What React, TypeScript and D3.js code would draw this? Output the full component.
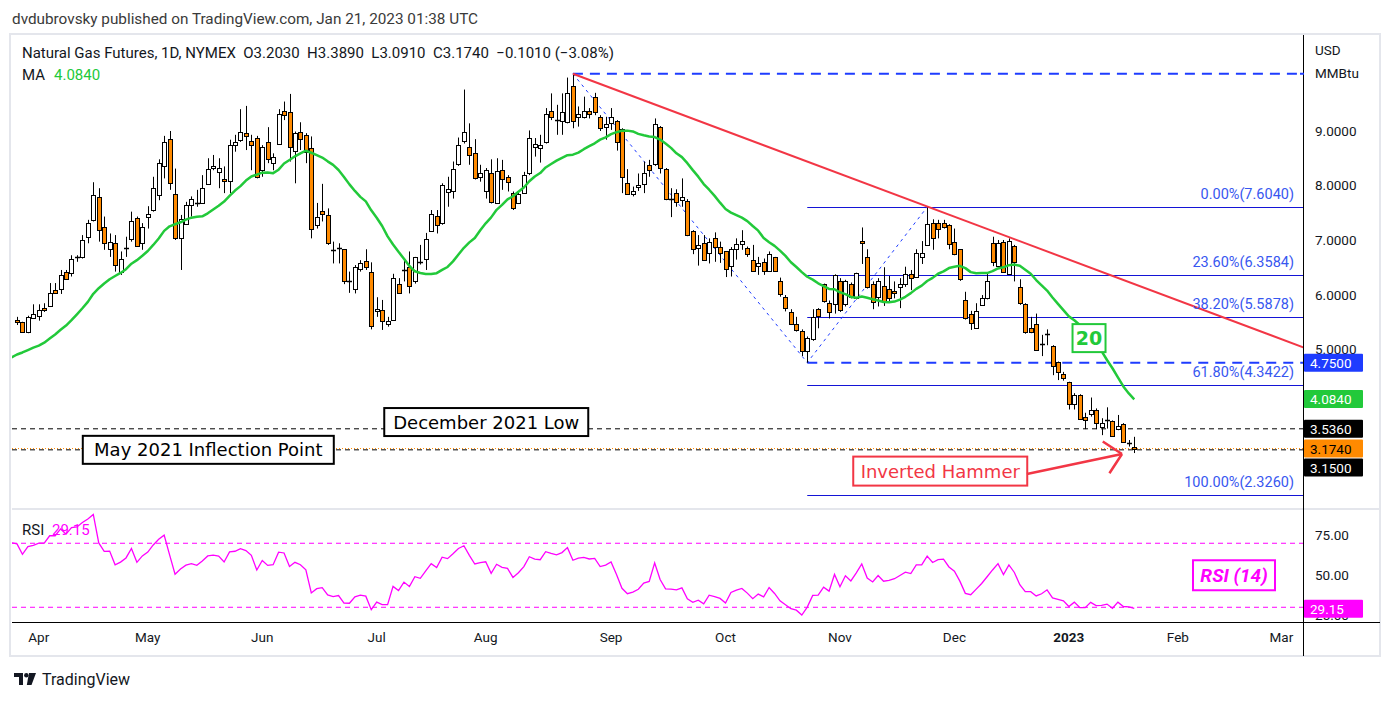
import React from 'react';
import * as d3 from 'd3';

const W = 1391;
const H = 701;

// ---- calendar ----
const firstBarDate = '2022-03-28';
const holidays = [
  '2022-04-15', '2022-05-30', '2022-06-20', '2022-07-04', '2022-09-05',
  '2022-11-24', '2022-12-26', '2023-01-02', '2023-01-16', '2023-02-20',
];
const monthNames = ['Jan', 'Feb', 'Mar', 'Apr', 'May', 'Jun', 'Jul', 'Aug', 'Sep', 'Oct', 'Nov', 'Dec'];

// closes before the first drawn bar (late Feb - Mar 25 2022), only used to warm up MA / RSI
const warmupCloses = [
  4.44, 4.40, 4.57, 4.72, 4.72, 5.01, 4.62, 4.53, 4.51, 4.64, 4.73,
  4.67, 4.55, 4.77, 4.96, 4.86, 5.12, 5.23, 5.41, 5.34, 5.52,
];

// daily bars Mar 28 2022 .. Jan 20 2023 : [open, high, low, close]
const ohlc: [number, number, number, number][] = [
  [5.54, 5.59, 5.44, 5.50], [5.49, 5.50, 5.30, 5.32], [5.32, 5.61, 5.29, 5.59], [5.56, 5.82, 5.55, 5.64],
  [5.61, 5.82, 5.52, 5.72], [5.75, 5.84, 5.68, 5.72], [5.78, 6.21, 5.77, 6.02], [6.08, 6.21, 6.01, 6.02],
  [6.11, 6.45, 6.01, 6.36], [6.41, 6.45, 6.27, 6.28], [6.39, 6.72, 6.33, 6.65], [6.68, 6.72, 6.60, 6.69],
  [6.69, 7.09, 6.66, 7.00], [7.05, 7.37, 6.94, 7.31], [7.37, 8.06, 7.34, 7.82], [7.78, 7.95, 6.97, 7.18],
  [7.24, 7.43, 6.82, 6.94], [6.83, 7.12, 6.69, 6.96], [6.94, 7.09, 6.42, 6.54], [6.41, 6.79, 6.36, 6.66],
  [6.84, 7.06, 6.69, 6.85], [7.01, 7.52, 6.97, 7.35], [7.40, 7.43, 6.88, 6.89], [6.94, 7.31, 6.82, 7.24],
  [7.42, 7.62, 7.21, 7.47], [7.55, 8.16, 7.52, 7.95], [7.83, 8.48, 7.73, 8.41], [8.35, 8.91, 8.13, 8.79],
  [8.85, 9.00, 7.92, 8.04], [7.84, 8.31, 7.00, 7.03], [7.03, 7.46, 6.45, 7.38], [7.30, 7.70, 7.28, 7.64],
  [7.64, 7.80, 7.43, 7.75], [7.67, 7.92, 7.61, 7.66], [7.68, 8.19, 7.67, 7.95], [8.03, 8.50, 8.01, 8.30],
  [8.32, 8.56, 8.28, 8.36], [8.24, 8.50, 7.95, 8.32], [8.12, 8.35, 7.86, 8.08], [8.08, 8.84, 7.86, 8.74],
  [8.74, 8.93, 8.62, 8.79], [8.83, 9.40, 8.80, 8.98], [8.97, 9.46, 8.65, 8.91], [8.82, 8.93, 8.28, 8.74],
  [8.88, 8.91, 8.13, 8.15], [8.28, 8.74, 8.16, 8.70], [8.79, 9.07, 8.41, 8.48], [8.41, 8.59, 8.28, 8.52],
  [8.76, 9.40, 8.76, 9.32], [9.36, 9.54, 9.20, 9.29], [9.34, 9.68, 8.44, 8.70], [8.63, 8.99, 8.04, 8.96],
  [8.99, 9.16, 8.65, 8.85], [8.92, 8.96, 8.41, 8.62], [8.68, 8.90, 7.03, 7.20], [7.27, 7.68, 7.21, 7.42],
  [7.54, 8.03, 7.34, 7.47], [7.45, 7.58, 6.91, 6.94], [6.81, 6.97, 6.57, 6.80], [6.84, 6.94, 6.57, 6.85],
  [6.83, 6.83, 6.19, 6.25], [6.25, 6.42, 6.03, 6.24], [6.11, 6.54, 6.02, 6.50], [6.46, 6.63, 6.42, 6.57],
  [6.62, 6.83, 6.45, 6.50], [6.42, 6.59, 5.36, 5.42], [5.70, 5.95, 5.59, 5.73], [5.71, 5.90, 5.35, 5.51],
  [5.45, 5.59, 5.41, 5.51], [5.53, 6.38, 5.52, 6.30], [6.19, 6.30, 6.02, 6.02], [6.45, 6.66, 6.24, 6.44],
  [6.51, 6.79, 6.02, 6.16], [6.25, 6.69, 6.20, 6.68], [6.58, 6.91, 6.55, 6.59], [6.66, 7.13, 6.45, 7.01],
  [7.16, 7.55, 7.15, 7.47], [7.44, 7.55, 7.12, 7.27], [7.31, 8.04, 7.28, 8.00], [7.88, 8.16, 7.61, 7.93],
  [7.90, 8.44, 7.76, 8.30], [8.39, 8.88, 8.36, 8.74], [8.82, 9.76, 8.77, 8.99], [8.70, 9.14, 8.38, 8.56],
  [8.59, 8.85, 8.11, 8.13], [8.15, 8.38, 8.07, 8.22], [7.90, 8.32, 7.76, 8.28], [8.22, 8.48, 7.67, 7.70],
  [7.67, 8.50, 7.66, 8.27], [8.29, 8.47, 7.92, 8.11], [8.15, 8.19, 7.89, 8.06], [7.87, 7.89, 7.55, 7.58],
  [7.67, 7.87, 7.66, 7.84], [7.86, 8.25, 7.85, 8.20], [8.22, 9.01, 8.19, 8.88], [8.71, 8.87, 8.53, 8.77],
  [8.68, 8.93, 8.42, 8.74], [8.80, 9.42, 8.77, 9.32], [9.36, 9.69, 9.20, 9.25], [9.20, 9.48, 8.93, 9.19],
  [9.18, 9.69, 8.93, 9.34], [9.17, 9.98, 9.14, 9.69], [9.83, 10.05, 9.05, 9.19], [9.25, 9.45, 9.08, 9.32],
  [9.25, 9.63, 9.23, 9.37], [9.37, 9.42, 9.23, 9.31], [9.62, 9.70, 9.29, 9.34], [9.26, 9.29, 9.00, 9.05],
  [9.08, 9.26, 8.84, 9.12], [9.14, 9.42, 9.02, 9.26], [9.19, 9.20, 8.64, 8.80], [9.03, 9.05, 7.86, 8.15],
  [8.04, 8.30, 7.83, 7.84], [7.84, 7.98, 7.80, 7.90], [7.97, 8.22, 7.90, 8.00], [8.03, 8.44, 7.86, 8.23],
  [8.38, 8.47, 8.16, 8.29], [8.39, 9.23, 8.36, 9.12], [9.07, 9.09, 8.22, 8.33], [8.30, 8.32, 7.73, 7.76],
  [7.75, 7.95, 7.42, 7.74], [7.86, 7.93, 7.61, 7.70], [7.73, 8.13, 7.61, 7.78], [7.72, 7.75, 7.07, 7.09],
  [7.17, 7.18, 6.74, 6.83], [6.86, 7.09, 6.53, 6.91], [6.94, 7.09, 6.62, 6.64], [6.77, 7.03, 6.57, 6.96],
  [7.03, 7.14, 6.60, 6.87], [6.88, 6.97, 6.58, 6.76], [6.79, 6.79, 6.32, 6.46], [6.52, 6.87, 6.33, 6.83],
  [6.83, 7.03, 6.64, 6.92], [6.93, 7.18, 6.82, 6.98], [6.85, 6.88, 6.69, 6.74], [6.64, 6.91, 6.42, 6.43],
  [6.52, 6.69, 6.36, 6.58], [6.59, 6.66, 6.36, 6.43], [6.44, 6.79, 6.42, 6.74], [6.68, 6.69, 6.42, 6.44],
  [6.25, 6.31, 5.96, 6.01], [5.96, 5.99, 5.69, 5.75], [5.67, 5.73, 5.44, 5.46], [5.45, 5.59, 5.32, 5.35],
  [5.33, 5.36, 4.87, 4.96], [4.96, 5.23, 4.75, 5.20], [5.18, 5.73, 5.15, 5.59], [5.73, 5.75, 5.38, 5.60],
  [6.19, 6.20, 5.85, 5.88], [5.84, 5.89, 5.56, 5.68], [5.83, 6.37, 5.65, 6.36], [6.25, 6.30, 5.68, 5.71],
  [5.83, 6.27, 5.78, 6.25], [6.20, 6.22, 5.93, 5.96], [5.93, 6.40, 5.91, 6.39], [6.98, 7.23, 6.56, 6.94],
  [6.68, 6.83, 6.11, 6.13], [6.19, 6.24, 5.73, 5.87], [5.95, 6.30, 5.78, 6.25], [6.16, 6.50, 5.79, 5.88],
  [6.11, 6.34, 5.87, 5.93], [6.06, 6.24, 5.93, 6.02], [6.13, 6.30, 5.75, 6.19], [6.19, 6.51, 6.14, 6.37],
  [6.37, 6.45, 6.08, 6.30], [6.33, 6.83, 6.31, 6.77], [6.69, 6.98, 6.56, 6.77], [6.90, 7.604, 6.89, 7.30],
  [7.32, 7.38, 6.82, 7.03], [7.31, 7.37, 7.03, 7.20], [7.32, 7.37, 7.21, 7.23], [7.27, 7.29, 6.83, 6.92],
  [6.96, 7.21, 6.72, 6.74], [6.83, 6.83, 6.25, 6.28], [5.89, 6.05, 5.54, 5.56], [5.64, 5.70, 5.35, 5.47],
  [5.38, 5.84, 5.37, 5.70], [5.80, 5.99, 5.79, 5.94], [5.93, 6.39, 5.91, 6.25], [6.94, 7.06, 6.52, 6.59],
  [6.53, 7.00, 6.51, 6.94], [6.96, 7.00, 6.40, 6.42], [6.37, 7.03, 6.36, 6.98], [6.89, 6.91, 6.24, 6.59],
  [6.14, 6.28, 5.81, 5.84], [5.82, 5.84, 5.28, 5.32], [5.38, 5.59, 5.29, 5.32], [5.45, 5.65, 4.98, 4.99],
  [5.09, 5.26, 4.87, 5.09], [5.26, 5.36, 5.07, 5.27], [5.06, 5.07, 4.52, 4.68], [4.77, 4.77, 4.43, 4.57],
  [4.55, 4.58, 4.42, 4.46], [4.39, 4.40, 3.89, 3.99], [4.00, 4.19, 3.89, 4.16], [4.16, 4.17, 3.70, 3.71],
  [3.76, 3.83, 3.53, 3.70], [3.81, 4.11, 3.76, 3.89], [3.89, 3.91, 3.53, 3.64], [3.56, 3.73, 3.42, 3.65],
  [3.68, 3.93, 3.54, 3.69], [3.67, 3.69, 3.39, 3.40], [3.53, 3.79, 3.51, 3.59], [3.62, 3.64, 3.28, 3.30],
  [3.28, 3.33, 3.21, 3.27], [3.203, 3.389, 3.091, 3.174],
];

const maPeriod = 20;
const rsiPeriod = 14;

// drawings
const swingHigh = { bar: 102, price: 10.05 };
const swingLow = { bar: 145, price: 4.75 };
const fibAnchor = { bar: 167, price: 7.604 };
const fibBottom = 2.326;
const fibRatios = [0, 0.236, 0.382, 0.618, 1];
const trendEnd = { bar: 236, price: 5.03 };
const decemberLow = 3.536;
const mayInflection = 3.15;
const lastPrice = 3.174;
const maLast = 4.084;
const rsiLast = 29.15;

const priceTicks = [5, 6, 7, 8, 9];
const rsiTicks = [75, 50, 25];
const rsiBands = [70, 30];

const publishedLine = 'dvdubrovsky published on TradingView.com, Jan 21, 2023 01:38 UTC';
const legendLine = 'Natural Gas Futures, 1D, NYMEX  O3.2030  H3.3890  L3.0910  C3.1740  \u22120.1010 (\u22123.08%)';

// ---- colors / fonts ----
const UP = '#ffffff';
const DOWN = '#ff8a00';
const MA_COLOR = '#22c93a';
const BLUE = '#1e3cff';
const FIB_LINE = '#1414d6';
const FIB_TEXT = '#3857f0';
const RED = '#f23645';
const MAGENTA = '#ff00ff';
const TXT = '#131722';
const UI = "Roboto, 'Liberation Sans', sans-serif";
const NOTE = "'DejaVu Sans', Verdana, sans-serif";

// pane geometry
const PL = 12;
const PR = 1303;
const PRICE_TOP = 35;
const PRICE_BOTTOM = 508;
const RSI_TOP = 509;
const RSI_BOTTOM = 622;
const FRAME_R = 1380;
const FRAME_B = 656;

function tradingDays(start: string, count: number): Date[] {
  const out: Date[] = [];
  const d = new Date(start + 'T00:00:00Z');
  while (out.length < count) {
    const dow = d.getUTCDay();
    const iso = d.toISOString().slice(0, 10);
    if (dow !== 0 && dow !== 6 && !holidays.includes(iso)) out.push(new Date(d));
    d.setUTCDate(d.getUTCDate() + 1);
  }
  return out;
}

function Badge({ y, bg, fg, text }: { y: number; bg: string; fg: string; text: string }) {
  return (
    <g>
      <rect x={PR + 1} y={y - 9} width={59} height={18} rx={1} fill={bg} />
      <text x={PR + 7} y={y + 5} fontSize={13.5} fill={fg} fontFamily={UI}>{text}</text>
    </g>
  );
}

export default function App() {
  const dates = tradingDays(firstBarDate, 245);
  const x = d3.scaleLinear().domain([-0.917, 235.96]).range([PL, PR]);
  const y = d3.scaleLinear().domain([2.083, 10.761]).range([PRICE_BOTTOM, PRICE_TOP]);
  const yR = d3.scaleLinear().domain([20.8, 91.4]).range([RSI_BOTTOM, RSI_TOP]);

  const allCloses = warmupCloses.concat(ohlc.map((b) => b[3]));
  const off = warmupCloses.length;

  // 20-period SMA
  const maPts: [number, number][] = [];
  for (let i = -1; i < ohlc.length; i++) {
    const k = i + off;
    const win = allCloses.slice(k - maPeriod + 1, k + 1);
    maPts.push([i, d3.mean(win) as number]);
  }

  // Wilder RSI
  const rsiAll: (number | null)[] = allCloses.map(() => null);
  let ag = 0;
  let al = 0;
  for (let k = 1; k < allCloses.length; k++) {
    const ch = allCloses[k] - allCloses[k - 1];
    const g = Math.max(ch, 0);
    const l = Math.max(-ch, 0);
    if (k <= rsiPeriod) {
      ag += g / rsiPeriod;
      al += l / rsiPeriod;
    } else {
      ag = (ag * (rsiPeriod - 1) + g) / rsiPeriod;
      al = (al * (rsiPeriod - 1) + l) / rsiPeriod;
    }
    if (k >= rsiPeriod) rsiAll[k] = al === 0 ? 100 : 100 - 100 / (1 + ag / al);
  }
  const rsiPts: [number, number][] = [];
  for (let i = -1; i < ohlc.length; i++) rsiPts.push([i, rsiAll[i + off] as number]);

  const priceLine = d3.line<[number, number]>().x((d) => x(d[0])).y((d) => y(d[1]));
  const rsiLine = d3.line<[number, number]>().x((d) => x(d[0])).y((d) => yR(d[1]));

  // month ticks
  const monthTicks: { i: number; label: string; bold: boolean }[] = [];
  for (let i = 1; i < dates.length; i++) {
    if (dates[i].getUTCMonth() !== dates[i - 1].getUTCMonth()) {
      const m = dates[i].getUTCMonth();
      const px = x(i);
      if (px > PL + 10 && px < PR - 10) {
        monthTicks.push({ i, label: m === 0 ? String(dates[i].getUTCFullYear()) : monthNames[m], bold: m === 0 });
      }
    }
  }

  // fib levels
  const fibRange = fibAnchor.price - fibBottom;
  const fibLevels = fibRatios.map((r) => ({ r, p: fibAnchor.price - r * fibRange }));

  // price badges, pushed apart when overlapping
  const badges = [
    { p: swingLow.price, bg: BLUE, fg: '#fff' },
    { p: maLast, bg: MA_COLOR, fg: '#fff' },
    { p: decemberLow, bg: '#000', fg: '#fff' },
    { p: lastPrice, bg: DOWN, fg: '#000' },
    { p: mayInflection, bg: '#000', fg: '#fff' },
  ]
    .map((b) => ({ ...b, text: b.p.toFixed(4), y: y(b.p) }))
    .sort((a, b) => a.y - b.y);
  for (let k = 1; k < badges.length; k++) {
    if (badges[k].y < badges[k - 1].y + 19) badges[k].y = badges[k - 1].y + 19;
  }

  const arrowFrom = { bar: 185.3, price: 2.706 };
  const arrowTo = { bar: 202.75, price: 3.073 };
  const ax1 = x(arrowFrom.bar);
  const ay1 = y(arrowFrom.price);
  const ax2 = x(arrowTo.bar);
  const ay2 = y(arrowTo.price);
  const ang = Math.atan2(ay1 - ay2, ax1 - ax2);
  const head = (s: number) => `M${ax2 + 23 * Math.cos(ang + s)},${ay2 + 23 * Math.sin(ang + s)}L${ax2},${ay2}`;

  const noteBox = (cx: number, cy: number, w: number, h: number, text: string, color: string, sw: number) => (
    <g>
      <rect x={cx - w / 2} y={cy - h / 2} width={w} height={h} fill="#fff" stroke={color} strokeWidth={sw} />
      <text x={cx} y={cy + 6.5} textAnchor="middle" fontFamily={NOTE} fontSize={18} fill={color}>{text}</text>
    </g>
  );

  return (
    <svg width={W} height={H} style={{ position: 'absolute', left: 0, top: 0, background: '#fff' }} fontFamily={UI}>
      <defs>
        <clipPath id="pricePane"><rect x={PL} y={PRICE_TOP} width={PR - PL} height={PRICE_BOTTOM - PRICE_TOP} /></clipPath>
        <clipPath id="rsiPane"><rect x={PL} y={RSI_TOP} width={PR - PL} height={RSI_BOTTOM - RSI_TOP} /></clipPath>
      </defs>

      <text x={12} y={24} fontSize={15.3} fill="#3a3a3a">{publishedLine}</text>

      {/* frame */}
      <rect x={10} y={34} width={FRAME_R - 10} height={FRAME_B - 34} fill="none" stroke="#e4e6ec" strokeWidth={2} />
      <line x1={PL} x2={FRAME_R} y1={RSI_TOP} y2={RSI_TOP} stroke="#e4e6ec" strokeWidth={2} />

      {/* price pane */}
      <g clipPath="url(#pricePane)">
        {fibLevels.map((f) => (
          <line key={f.r} x1={x(swingLow.bar)} x2={PR} y1={Math.round(y(f.p)) + 0.5} y2={Math.round(y(f.p)) + 0.5} stroke={FIB_LINE} strokeWidth={1} />
        ))}
        <line x1={PL} x2={PR} y1={y(decemberLow)} y2={y(decemberLow)} stroke="#000" strokeWidth={1} strokeDasharray="5,4" />
        <line x1={PL} x2={PR} y1={y(mayInflection)} y2={y(mayInflection)} stroke="#000" strokeWidth={1} strokeDasharray="5,4" />
        <line x1={PL} x2={PR} y1={y(lastPrice)} y2={y(lastPrice)} stroke={DOWN} strokeWidth={1} strokeDasharray="1,2" />
        <line x1={x(swingHigh.bar)} x2={PR} y1={y(swingHigh.price)} y2={y(swingHigh.price)} stroke={BLUE} strokeWidth={2} strokeDasharray="10,7" />
        <line x1={x(swingLow.bar)} x2={PR} y1={y(swingLow.price)} y2={y(swingLow.price)} stroke={BLUE} strokeWidth={2} strokeDasharray="10,7" />
        <path
          d={priceLine([[swingHigh.bar, swingHigh.price], [swingLow.bar, swingLow.price], [fibAnchor.bar, fibAnchor.price]]) || ''}
          fill="none" stroke={BLUE} strokeWidth={1} strokeDasharray="3,4"
        />

        {ohlc.map((b, i) => {
          const [o, h, l, c] = b;
          const cx = Math.round(x(i));
          const top = Math.round(y(Math.max(o, c)));
          const bot = Math.round(y(Math.min(o, c)));
          const down = c < o;
          return (
            <g key={i}>
              <line x1={cx + 0.5} x2={cx + 0.5} y1={y(h)} y2={y(l)} stroke="#000" strokeWidth={1} />
              {bot - top < 2 ? (
                <line x1={cx - 2} x2={cx + 3} y1={top + 0.5} y2={top + 0.5} stroke="#000" strokeWidth={1.5} />
              ) : (
                <rect x={cx - 1.5} y={top + 0.5} width={4} height={bot - top} fill={down ? DOWN : UP} stroke="#000" strokeWidth={1} />
              )}
            </g>
          );
        })}

        <path d={priceLine(maPts) || ''} fill="none" stroke={MA_COLOR} strokeWidth={2.5} strokeLinejoin="round" />
        <line x1={x(swingHigh.bar)} y1={y(swingHigh.price)} x2={x(trendEnd.bar)} y2={y(trendEnd.price)} stroke={RED} strokeWidth={2} />

        {fibLevels.map((f) => (
          <text key={'t' + f.r} x={PR - 9} y={y(f.p) - 8} textAnchor="end" fontSize={14.5} fill={FIB_TEXT}>
            {`${(f.r * 100).toFixed(2)}%(${f.p.toFixed(4)})`}
          </text>
        ))}

        {noteBox(x(86.1), y(3.66), 204, 28, 'December 2021 Low', '#000', 2)}
        {noteBox(x(35.1), y(3.15), 251, 28, 'May 2021 Inflection Point', '#000', 2)}
        {noteBox(x(169.4), y(2.76), 174, 29, 'Inverted Hammer', RED, 2)}
        <line x1={ax1} y1={ay1} x2={ax2} y2={ay2} stroke={RED} strokeWidth={2.5} />
        <path d={head(Math.PI / 4) + head(-Math.PI / 4)} fill="none" stroke={RED} strokeWidth={2.5} />

        <rect x={x(196.7) - 16.5} y={y(5.2) - 14} width={33} height={28} fill="#fff" stroke={MA_COLOR} strokeWidth={2} />
        <text x={x(196.7)} y={y(5.2) + 7} textAnchor="middle" fontFamily={NOTE} fontSize={19} fontWeight="bold" fill={MA_COLOR}>20</text>
      </g>

      {/* legend */}
      <text x={22} y={58} fontSize={15} fill={TXT} style={{ whiteSpace: 'pre' }}>{legendLine}</text>
      <text x={22} y={80} fontSize={15} fill={TXT}>MA</text>
      <text x={54} y={80} fontSize={15} fill={MA_COLOR}>{maLast.toFixed(4)}</text>

      {/* RSI pane */}
      <g clipPath="url(#rsiPane)">
        {rsiBands.map((v) => (
          <line key={v} x1={PL} x2={PR} y1={yR(v)} y2={yR(v)} stroke={MAGENTA} strokeWidth={1} strokeDasharray="5,4" />
        ))}
        <path d={rsiLine(rsiPts) || ''} fill="none" stroke={MAGENTA} strokeWidth={1.3} />
        <rect x={x(223.3) - 41} y={yR(50) - 15} width={82} height={30} fill="#fff" stroke={MAGENTA} strokeWidth={2} />
        <text x={x(223.3)} y={yR(50) + 7} textAnchor="middle" fontSize={19} fontStyle="italic" fontWeight="bold" fill={MAGENTA}>RSI (14)</text>
      </g>
      <text x={22} y={535} fontSize={15} fill={TXT}>RSI</text>
      <text x={52} y={535} fontSize={15} fill={MAGENTA}>{rsiLast.toFixed(2)}</text>

      {/* axes */}
      <line x1={PL} x2={FRAME_R} y1={RSI_BOTTOM + 0.5} y2={RSI_BOTTOM + 0.5} stroke="#000" strokeWidth={1} />
      <line x1={PR + 0.5} x2={PR + 0.5} y1={PRICE_TOP} y2={FRAME_B} stroke="#000" strokeWidth={1} />
      <text x={1315} y={55} fontSize={13.5} fill={TXT}>USD</text>
      <text x={1315} y={78} fontSize={13.5} fill={TXT}>MMBtu</text>
      <line x1={PR - 3} x2={PR + 1} y1={y(swingHigh.price)} y2={y(swingHigh.price)} stroke={BLUE} strokeWidth={2} />
      {priceTicks.map((p) => (
        <text key={p} x={1315} y={y(p) + 5} fontSize={13.5} fill={TXT}>{p.toFixed(4)}</text>
      ))}
      {badges.map((b) => (
        <Badge key={b.text} y={b.y} bg={b.bg} fg={b.fg} text={b.text} />
      ))}
      {rsiTicks.map((v) => (
        <text key={v} x={1315} y={yR(v) + 5} fontSize={13.5} fill={TXT}>{v.toFixed(2)}</text>
      ))}
      <Badge y={yR(rsiLast)} bg={MAGENTA} fg="#fff" text={rsiLast.toFixed(2)} />

      {monthTicks.map((t) => (
        <text key={t.i} x={x(t.i)} y={642} textAnchor="middle" fontSize={13.5} fontWeight={t.bold ? 'bold' : 'normal'} fill={TXT}>{t.label}</text>
      ))}

      {/* footer logo */}
      <g transform="translate(14,673)" fill={TXT}>
        <path d="M0,0H9V12H5V4H0Z" />
        <circle cx={12.3} cy={2.2} r={2.2} />
        <path d="M15,0H22L17.5,12H12.8Z" />
      </g>
      <text x={42} y={685} fontSize={16} fill={TXT}>TradingView</text>
    </svg>
  );
}
